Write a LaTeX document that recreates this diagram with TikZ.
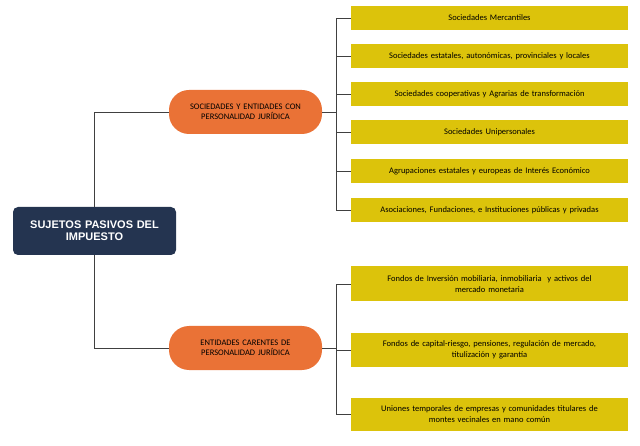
\documentclass[tikz,border=0pt]{standalone}
\usepackage{fontspec}
\setmainfont{Carlito}
\newfontfamily\arialf{Liberation Sans}
\definecolor{navy}{HTML}{243450}
\definecolor{orng}{HTML}{EA7236}
\definecolor{ylw}{HTML}{DCC30B}
\begin{document}
\begin{tikzpicture}[x=1pt,y=-1pt,
  rootbox/.style={draw=none,fill=navy,rounded corners=5pt,text=white,font=\arialf\bfseries\fontsize{11}{12}\selectfont,align=center,minimum width=163pt,minimum height=48pt,inner sep=2pt,text width=150pt},
  catbox/.style={fill=orng,rounded corners=20pt,font=\fontsize{8.5}{10.5}\selectfont,align=center,minimum width=153pt,minimum height=44pt,text width=148pt,inner sep=1pt},
  itembox/.style={fill=ylw,font=\fontsize{8.5}{10.5}\selectfont,align=center,minimum width=277pt,text width=275pt,inner sep=1pt},
  conn/.style={draw=black!75,line width=0.8pt}]
\useasboundingbox (0,0) rectangle (640,446);
\node[rootbox] (root) at (94.5,231) {SUJETOS PASIVOS DEL\\IMPUESTO};
\node[catbox] (c1) at (245.5,112) {SOCIEDADES Y ENTIDADES CON\\PERSONALIDAD JURÍDICA};
\node[catbox] (c2) at (245.5,348) {ENTIDADES CARENTES DE\\PERSONALIDAD JURÍDICA};
\node[itembox,minimum height=24pt] (a1) at (489.5,18) {Sociedades Mercantiles};
\node[itembox,minimum height=24pt] (a2) at (489.5,56) {Sociedades estatales, autonómicas, provinciales y locales};
\node[itembox,minimum height=24pt] (a3) at (489.5,94) {Sociedades cooperativas y Agrarias de transformación};
\node[itembox,minimum height=24pt] (a4) at (489.5,132) {Sociedades Unipersonales};
\node[itembox,minimum height=24pt] (a5) at (489.5,171) {Agrupaciones estatales y europeas de Interés Económico};
\node[itembox,minimum height=24pt] (a6) at (489.5,210) {Asociaciones, Fundaciones, e Instituciones públicas y privadas};
\node[itembox,minimum height=35pt] (b1) at (489.5,284) {Fondos de Inversión mobiliaria, inmobiliaria~ y activos del\\mercado monetaria};
\node[itembox,minimum height=33pt] (b2) at (489.5,350) {Fondos de capital-riesgo, pensiones, regulación de mercado,\\titulización y garantía};
\node[itembox,minimum height=33pt] (b3) at (489.5,414) {Uniones temporales de empresas y comunidades titulares de\\montes vecinales en mano común};
\draw[conn] (root.north) |- (c1.west);
\draw[conn] (root.south) |- (c2.west);
\coordinate (j1) at (336,112);
\coordinate (j2) at (336,348);
\draw[conn] (c1.east) -- (j1);
\draw[conn] (c2.east) -- (j2);
\foreach \n in {a1,a2,a3,a4,a5,a6} \draw[conn] (j1) |- (\n.west);
\foreach \n in {b1,b2,b3} \draw[conn] (j2) |- (\n.west);
\end{tikzpicture}
\end{document}
